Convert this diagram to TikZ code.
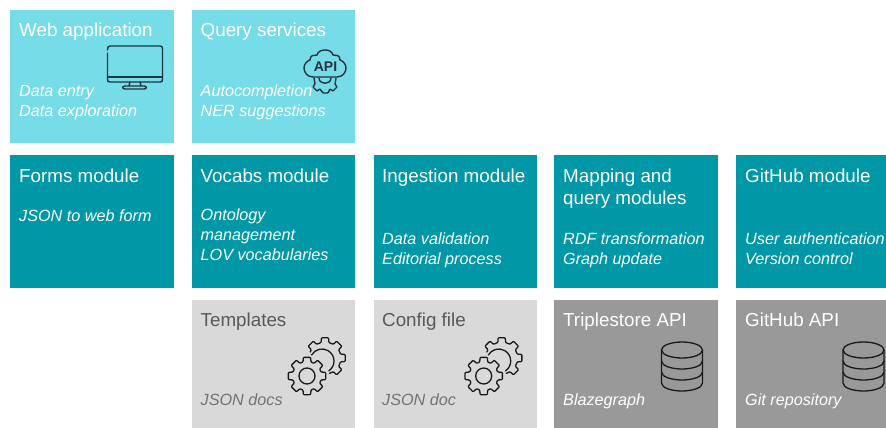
\documentclass[tikz,border=0pt]{standalone}
\usepackage{fontspec}
\setmainfont{Liberation Sans}
\definecolor{cyanbox}{HTML}{76DCE8}
\definecolor{tealbox}{HTML}{0097A7}
\definecolor{lightgrey}{HTML}{D9D9D9}
\definecolor{midgrey}{HTML}{999999}
\definecolor{icondark}{HTML}{1E3440}
\definecolor{iconblack}{HTML}{1A1A1A}
\definecolor{greytitle}{HTML}{595959}
\definecolor{greynote}{HTML}{737373}
\usetikzlibrary{calc}
\tikzset{
  x=1pt,y=-1pt,
  box/.style={draw=none,inner sep=0,outer sep=0,anchor=north west},
  cyanb/.style={box,fill=cyanbox},
  tealb/.style={box,fill=tealbox},
  lightb/.style={box,fill=lightgrey},
  midb/.style={box,fill=midgrey},
  title/.style={inner sep=0,anchor=base west,align=left,font=\fontsize{18.8}{22.5}\selectfont},
  note/.style={inner sep=0,anchor=base west,align=left,font=\fontsize{16.2}{19.6}\selectfont\itshape},
  icon/.style={draw=icondark,line width=1.4pt,line join=round,line cap=round},
  iconk/.style={draw=iconblack,line width=1.3pt,line join=round,line cap=round},
  gears/.pic={
    \draw[iconk,rounded corners=0.8pt] (74:16)
      \foreach \a in {45,0,-45,-90,-135} { -- ({\a+14}:16) -- ({\a+10}:20.5) -- ({\a-10}:20.5) -- ({\a-14}:16) }
      -- (-158:16);
    \draw[iconk] (-3,3) ++(-150:12) arc[start angle=-150,end angle=55,radius=12];
    \draw[iconk,rounded corners=0.8pt] ($(-18,18)+(22.5:14.5)$)
      \foreach \a in {45,90,...,360} { -- ($(-18,18)+({\a-16}:14.5)$) -- ($(-18,18)+({\a-11}:19)$) -- ($(-18,18)+({\a+11}:19)$) -- ($(-18,18)+({\a+16}:14.5)$) } -- cycle;
    \draw[iconk] (-18,18) circle[radius=8];
  },
  dbstack/.pic={
    \draw[iconk] (-20.5,0) arc[start angle=180,end angle=-180,x radius=20.5,y radius=8];
    \draw[iconk] (-20.5,0) -- (-20.5,33) .. controls (-20.5,38) and (-10,41) .. (0,41) .. controls (10,41) and (20.5,38) .. (20.5,33) -- (20.5,0);
    \draw[iconk] (-20.5,11) .. controls (-20.5,16) and (-10,19) .. (0,19) .. controls (10,19) and (20.5,16) .. (20.5,11);
    \draw[iconk] (-20.5,22) .. controls (-20.5,27) and (-10,30) .. (0,30) .. controls (10,30) and (20.5,27) .. (20.5,22);
  }
}
\begin{document}
\begin{tikzpicture}
\useasboundingbox (0,0) rectangle (886,428);
% boxes
\node[cyanb,minimum width=164pt,minimum height=133pt] (webbox) at (10,10) {};
\node[cyanb,minimum width=163pt,minimum height=133pt] (querybox) at (192,10) {};
\node[tealb,minimum width=164pt,minimum height=133pt] (formsbox) at (10,155) {};
\node[tealb,minimum width=163pt,minimum height=133pt] (vocabbox) at (192,155) {};
\node[tealb,minimum width=163pt,minimum height=133pt] (ingestbox) at (374,155) {};
\node[tealb,minimum width=164pt,minimum height=133pt] (mapbox) at (554,155) {};
\node[tealb,minimum width=150pt,minimum height=133pt] (gitmodbox) at (736,155) {};
\node[lightb,minimum width=163pt,minimum height=128pt] (tplbox) at (192,300) {};
\node[lightb,minimum width=163pt,minimum height=128pt] (cfgbox) at (374,300) {};
\node[midb,minimum width=164pt,minimum height=128pt] (triplebox) at (554,300) {};
\node[midb,minimum width=150pt,minimum height=128pt] (gitapibox) at (736,300) {};
% monitor icon
\draw[icon] (107.5,50) .. controls (107.5,47.5) and (108,46) .. (110,46) -- (160,46) .. controls (162,46) and (162.5,47) .. (162.5,49) -- (162.5,79) .. controls (162.5,81.5) and (162,82) .. (160,82) -- (110,82) .. controls (108,82) and (107.5,81.5) .. (107.5,79) -- (107.5,53);
\draw[icon] (107.5,77) -- (162.5,77);
\draw[icon] (130,82) -- (129,86) (140,82) -- (141,86);
\draw[icon] (125,86) -- (144,86) .. controls (147,86) and (147,89) .. (144,89) -- (125,89) .. controls (122,89) and (122,86) .. (125,86);
% API icon
\draw[icon] (313,77) .. controls (307,77) and (304,72) .. (304,68) .. controls (304,64) and (307,61) .. (310,60) .. controls (310,55) and (314,55) .. (317,55) .. controls (318,51) and (322,50) .. (325,50) .. controls (328,50) and (332,51) .. (333,55) .. controls (336,55) and (340,55) .. (340,60) .. controls (343,61) and (346,64) .. (346,68) .. controls (346,72) and (343,77) .. (337,77) -- (313,77);
\draw[icon,rounded corners=0.6pt] (314,78) -- (315,84) -- (313,87) -- (317,91) -- (320,89) -- (323,93) -- (328,93) -- (330,89) -- (333,91) -- (337,87) -- (335,84) -- (336,78);
\draw[icon] (319,78) .. controls (319,85) and (331,85) .. (331,78);
\node[inner sep=0,anchor=center,text=icondark,font=\fontsize{14}{16}\selectfont\bfseries] (apilabel) at (325.5,66.5) {API};
% gears and databases
\pic at (325,358) {gears};
\pic at (501.7,358) {gears};
\pic at (682,350) {dbstack};
\pic at (863.5,350) {dbstack};
% titles
\node[title,text=white] (t1) at (19,37) {Web application};
\node[title,text=white] (t2) at (200.5,37) {Query services};
\node[title,text=white] (t3) at (19,182) {Forms module};
\node[title,text=white] (t4) at (200.5,182) {Vocabs module};
\node[title,text=white] (t5) at (382,182) {Ingestion module};
\node[title,text=white] (t6) at (563,204.5) {Mapping and\\query modules};
\node[title,text=white] (t7) at (745,182) {GitHub module};
\node[title,text=greytitle] (t8) at (200.5,326) {Templates};
\node[title,text=greytitle] (t9) at (382,326) {Config file};
\node[title,text=white] (t10) at (563,326) {Triplestore API};
\node[title,text=white] (t11) at (745,326) {GitHub API};
% notes
\node[note,text=white] (n1) at (19,116) {Data entry\\Data exploration};
\node[note,text=white] (n2) at (200.5,116) {Autocompletion\\NER suggestions};
\node[note,text=white] (n3) at (19,221) {JSON to web form};
\node[note,text=white] (n4) at (200.5,260) {Ontology\\management\\LOV vocabularies};
\node[note,text=white] (n5) at (382,264) {Data validation\\Editorial process};
\node[note,text=white] (n6) at (563,264) {RDF transformation\\Graph update};
\node[note,text=white] (n7) at (745,264) {User authentication\\Version control};
\node[note,text=greynote] (n8) at (200.5,405) {JSON docs};
\node[note,text=greynote] (n9) at (382,405) {JSON doc};
\node[note,text=white] (n10) at (563,405) {Blazegraph};
\node[note,text=white] (n11) at (745,405) {Git repository};
\end{tikzpicture}
\end{document}
